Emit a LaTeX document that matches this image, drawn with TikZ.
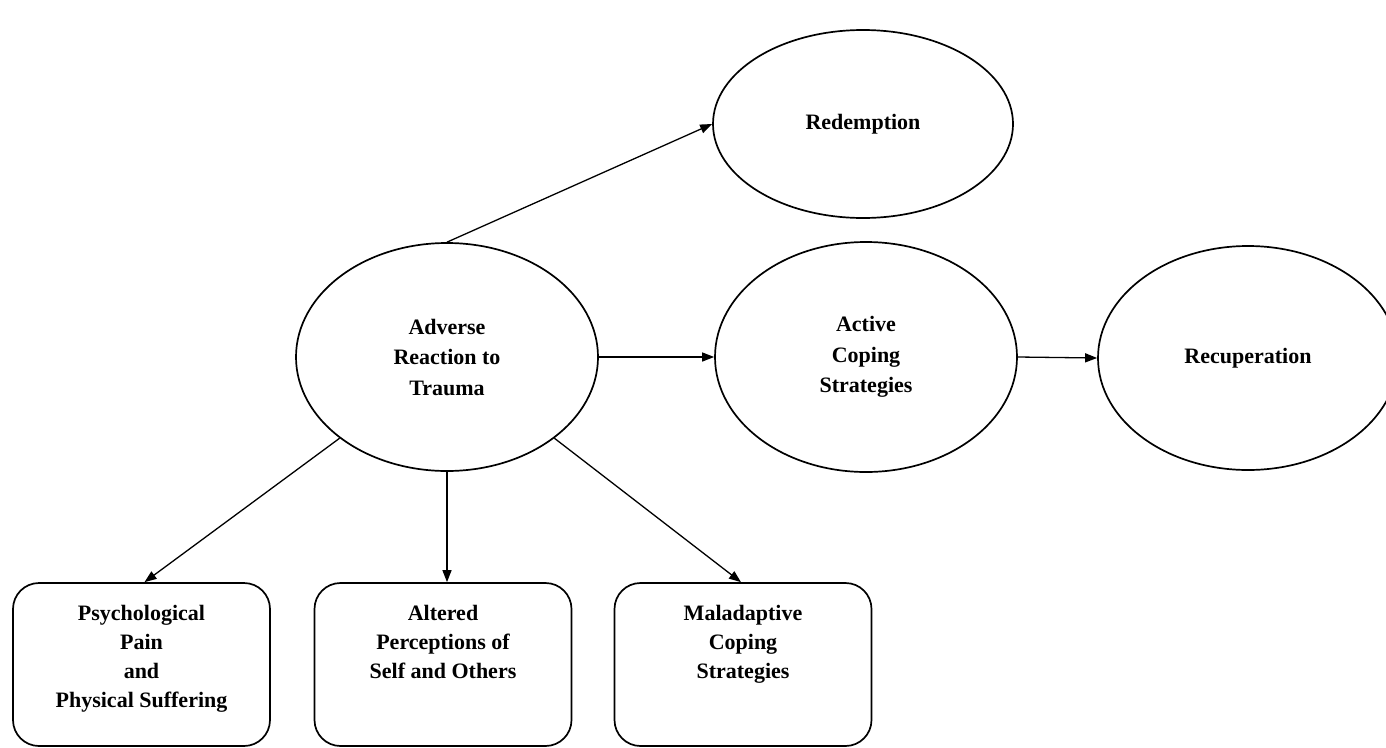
\documentclass[tikz,border=0pt]{standalone}
\usepackage{fontspec}
\setmainfont{Liberation Serif}
\usetikzlibrary{shapes.geometric,arrows.meta}
\tikzset{
  ell/.style={draw, line width=1.7pt, ellipse, inner sep=0pt, align=center,
    font=\bfseries\fontsize{22}{30.5}\selectfont},
  rbox/.style={draw, line width=1.7pt, rounded corners=26pt, minimum width=257pt, minimum height=163pt, inner sep=0pt},
  lbl/.style={align=center, inner sep=0pt, font=\bfseries\fontsize{22}{29}\selectfont},
  arr/.style={line width=1.3pt, -{Triangle[length=12pt,width=9pt]}}
}
\begin{document}
\begin{tikzpicture}[x=1pt,y=-1pt]
\useasboundingbox (0,0) rectangle (1386,747);
\node[ell, minimum width=300pt, minimum height=188pt] (red) at (863,124) {Redemption};
\node[ell, minimum width=302pt, minimum height=228pt] (adv) at (447,357) {Adverse\\Reaction to\\Trauma};
\node[ell, minimum width=302pt, minimum height=230pt] (act) at (866,357) {Active\\Coping\\Strategies};
\node[ell, minimum width=300pt, minimum height=224pt] (rec) at (1248,358) {Recuperation};
\node[rbox] (b1) at (141.5,664.5) {};
\node[rbox] (b2) at (443,664.5) {};
\node[rbox] (b3) at (743,664.5) {};
\node[lbl, anchor=north] (t1) at ([yshift=-23pt]b1.north) {Psychological\\Pain\\and\\Physical Suffering};
\node[lbl, anchor=north] (t2) at ([yshift=-23pt]b2.north) {Altered\\Perceptions of\\Self and Others};
\node[lbl, anchor=north] (t3) at ([yshift=-23pt]b3.north) {Maladaptive\\Coping\\Strategies};
\draw[arr] (adv.north) -- (red.west);
\draw[arr] (adv.east) -- (act.west);
\draw[arr] (act.east) -- (rec.west);
\draw[arr] (adv.south west) -- ([xshift=3pt]b1.north);
\draw[arr] (adv.south) -- ([xshift=4pt]b2.north);
\draw[arr] (adv.south east) -- ([xshift=-2pt]b3.north);
\end{tikzpicture}
\end{document}
